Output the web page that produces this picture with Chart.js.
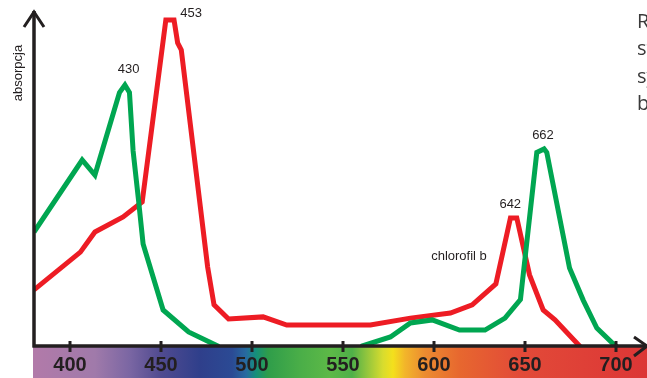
<!DOCTYPE html>
<html>
<head>
<meta charset="utf-8">
<script src="https://cdn.jsdelivr.net/npm/chart.js@4/dist/chart.umd.min.js"></script>
<style>
  html, body { margin: 0; padding: 0; background: #fff; overflow: hidden; }
  #wrap { width: 647px; height: 378px; position: relative; }
</style>
</head>
<body>
<div id="wrap"><canvas id="absCanvas"></canvas></div>
<script>
// chlorofil a (green) - wavelength / absorbance
var chlAWave = [380, 406.5, 413.5, 427, 430, 432.5, 434.5, 437.5, 440, 451, 465, 481, 485, 555, 560.5, 576, 587, 599, 614, 628, 639, 647.5, 656.5, 660.5, 662, 674.5, 682, 689.5, 698.5, 700, 702];
var chlAAbs  = [38, 62, 57, 84.5, 87, 84.5, 65, 48.5, 34, 12, 4.7, 0, -4, -4, 0, 3, 7.7, 8.7, 5.3, 5.3, 9.3, 15.5, 64.5, 65.7, 64.5, 26, 15.3, 6, 0.7, 0, -4];

// chlorofil b (red)
var chlBWave = [380, 405.5, 413.5, 429, 439.5, 452.5, 457, 459, 461, 475.5, 479, 487, 506, 519, 565, 587, 609, 621, 634, 642, 645.5, 652.5, 660, 666.5, 680, 684];
var chlBAbs  = [18.7, 31.3, 38, 43, 48, 108.7, 108.7, 101, 98.7, 26.3, 13.7, 9, 9.7, 7, 7, 9.3, 11, 13.7, 20.7, 42.7, 42.7, 23.7, 12, 8.7, 0, -5];

var tickLabels = [400, 450, 500, 550, 600, 650, 700];

// peak notes, placed in data units (baseline of text)
var noteTexts = ['430', '453', '642', '662', 'chlorofil b'];
var noteWave  = [432, 460.4, 641.9, 659.9, 613.7];
var noteAbs   = [91, 109.7, 46, 69, 28.7];
var noteAlign = ['center', 'left', 'center', 'center', 'center'];

var sideText = ['R', 'st', 'sy', 'b'];

function toPoints(xs, ys) {
  var pts = [];
  for (var i = 0; i < xs.length; i++) pts.push({ x: xs[i], y: ys[i] });
  return pts;
}

var ink = '#231f20';

var decorPlugin = {
  id: 'decor',
  afterDatasetsDraw: function(chart) {
    var ctx = chart.ctx;
    var xs = chart.scales.x, ys = chart.scales.y;
    var area = chart.chartArea;
    var base = area.bottom;

    // spectrum strip
    var g = ctx.createLinearGradient(33, 0, 647, 0);
    var stops = [
      [33, '#b27aa9'], [95, '#a07aaa'], [130, '#7a66a3'], [160, '#514b90'],
      [200, '#2f3f8b'], [232, '#2b4a94'], [246, '#276aa0'], [256, '#15907a'],
      [268, '#2f9d4a'], [300, '#4aae48'], [330, '#5db947'], [352, '#4fb049'],
      [366, '#8ec43e'], [383, '#d8dc2e'], [393, '#f4e01c'], [405, '#f2b52a'],
      [425, '#ec8b30'], [460, '#e7672f'], [520, '#e24a38'], [647, '#dc3636']
    ];
    stops.forEach(function(s) { g.addColorStop((s[0] - 33) / 614, s[1]); });
    ctx.save();
    ctx.fillStyle = g;
    ctx.fillRect(33, base + 1, 614, chart.height - base);

    // axes
    ctx.strokeStyle = ink;
    ctx.lineWidth = 3.5;
    ctx.lineCap = 'butt';
    ctx.beginPath();
    ctx.moveTo(area.left, 11);
    ctx.lineTo(area.left, base + 1.5);
    ctx.moveTo(area.left - 1.5, base);
    ctx.lineTo(646, base);
    ctx.stroke();

    // arrow heads
    ctx.lineWidth = 3;
    ctx.lineJoin = 'miter';
    ctx.beginPath();
    ctx.moveTo(area.left - 10, 27);
    ctx.lineTo(area.left, 12);
    ctx.lineTo(area.left + 10, 27);
    ctx.moveTo(634, base - 9);
    ctx.lineTo(647, base);
    ctx.lineTo(634, base + 10);
    ctx.stroke();

    // ticks and labels
    ctx.fillStyle = ink;
    ctx.font = 'bold 20px "Liberation Sans", Arial, sans-serif';
    ctx.textAlign = 'center';
    ctx.textBaseline = 'alphabetic';
    tickLabels.forEach(function(t) {
      var px = Math.round(xs.getPixelForValue(t));
      ctx.beginPath();
      ctx.moveTo(px, base - 5);
      ctx.lineTo(px, base + 6);
      ctx.stroke();
      ctx.fillText(String(t), px, 371);
    });

    // peak notes
    ctx.font = '13px "Liberation Sans", Arial, sans-serif';
    for (var i = 0; i < noteTexts.length; i++) {
      ctx.textAlign = noteAlign[i];
      ctx.fillText(noteTexts[i], xs.getPixelForValue(noteWave[i]), ys.getPixelForValue(noteAbs[i]));
    }

    // y title
    ctx.save();
    ctx.translate(22, 73);
    ctx.rotate(-Math.PI / 2);
    ctx.textAlign = 'center';
    ctx.font = '13px "Liberation Sans", Arial, sans-serif';
    ctx.fillText('absorpcja', 0, 0);
    ctx.restore();

    // cut text at right edge
    ctx.fillStyle = '#3a3a3a';
    ctx.textAlign = 'left';
    ctx.font = '20px "Open Sans", "Noto Sans", sans-serif';
    for (var k = 0; k < sideText.length; k++) {
      ctx.fillText(sideText[k], 637, 28 + k * 27.3);
    }
    ctx.restore();
  }
};

var chart = new Chart(document.getElementById('absCanvas'), {
  type: 'line',
  data: {
    datasets: [
      {
        label: 'chlorofil a',
        data: toPoints(chlAWave, chlAAbs),
        borderColor: '#00a651',
        borderWidth: 5,
        pointRadius: 0,
        tension: 0,
        fill: false
      },
      {
        label: 'chlorofil b',
        data: toPoints(chlBWave, chlBAbs),
        borderColor: '#ed1c24',
        borderWidth: 5,
        pointRadius: 0,
        tension: 0,
        fill: false
      }
    ]
  },
  options: {
    responsive: true,
    maintainAspectRatio: false,
    animation: false,
    events: [],
    layout: { padding: { left: 34, right: 2, top: 10, bottom: 32 } },
    plugins: { legend: { display: false }, tooltip: { enabled: false } },
    scales: {
      x: { type: 'linear', min: 380, max: 716, display: false },
      y: { type: 'linear', min: 0, max: 112, display: false }
    }
  },
  plugins: [decorPlugin]
});
</script>
</body>
</html>
